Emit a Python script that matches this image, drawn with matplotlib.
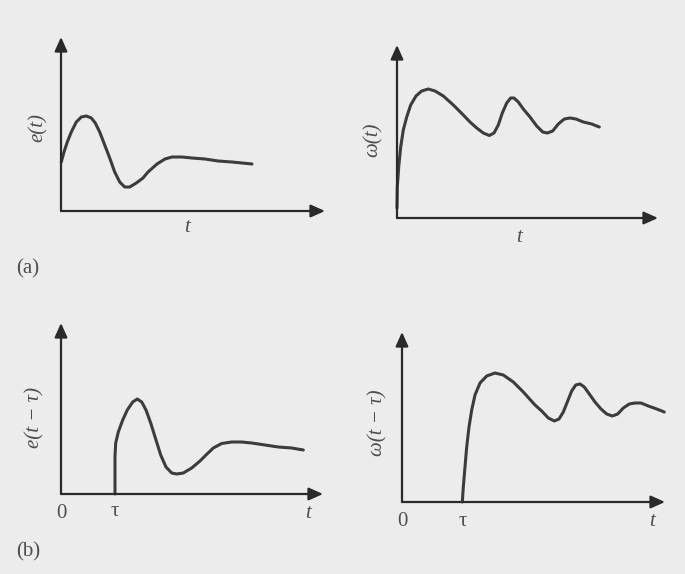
import numpy as np
import matplotlib
matplotlib.use("Agg")
from matplotlib import pyplot as plt

# curve readings (t from the origin, value above the t axis)
t_e = [0.3, 3, 6.3, 10.3, 15.3, 20.3, 25.3, 30.3, 34.3, 38.7, 43.7, 48.7, 53.7, 58.7,
       63.7, 68.7, 75.3, 82, 87, 96, 104, 111, 121, 131, 144, 157, 171, 181, 191]
e_vals = [49, 59, 69, 79, 89, 94, 95, 93, 88, 79, 66, 53, 39, 29, 24, 24, 28, 33, 39,
          47, 52, 54, 54, 53, 52, 50, 49, 48, 47]

t_w = [0, 0.3, 1.7, 3.7, 6.3, 9.7, 13.7, 19, 24.7, 31.3, 38, 46.3, 56.3, 66.3, 73,
       79.7, 86.3, 92.3, 97, 101.3, 105.3, 109.7, 113.7, 117, 121.3, 126.3, 133, 139.7,
       145.7, 150.3, 155.7, 161.3, 167.3, 173, 179, 186.3, 194.7, 202.3]
w_vals = [10, 31, 51, 71, 88, 101, 113, 122, 127, 129, 127, 122, 113, 103, 96, 90, 85,
          82.5, 85, 93, 105, 115, 120, 120, 116, 109, 101, 92, 86, 85, 87, 94, 99, 100, 99,
          96, 94, 91]

tau_e = 54
t_ed = [54, 54, 54.7, 57.3, 61.7, 66.3, 71.7, 76.3, 80.7, 85, 89.7, 95, 99.7, 105,
        110.7, 115.7, 122.3, 130.7, 139, 146, 152.3, 160.7, 170.7, 180.7, 190.7, 204,
        217.3, 230.7, 242.3]
ed_vals = [0, 38, 51, 62, 74, 84, 92, 95, 92, 84, 71, 54, 39, 27, 21, 20, 21, 26, 33,
           40, 46, 50.5, 52, 52, 51, 49, 47, 46, 44]

tau_w = 61
t_wd = [60.3, 61.3, 63, 64.7, 67, 69.7, 73, 78, 84.7, 93, 101.3, 111.3, 121.3, 133,
        139.7, 146.3, 152.3, 157, 161.3, 165.3, 169.7, 173.7, 178, 182.3, 187.3, 193,
        199, 204.7, 210.3, 215.7, 221.3, 227.3, 233, 239, 246.3, 254.7, 262.3]
wd_vals = [0, 15, 35, 55, 75, 92, 107, 119, 126, 129, 127, 120, 110, 97, 91, 84, 81,
           83, 90, 100, 111, 117, 118, 115, 108, 100, 93, 88, 86, 88, 94, 98, 99, 99, 96,
           93, 90]

W, H = 685, 574
bg = "#ececec"
ink = "#3c3c3c"
txt = "#4e4e4e"
serif = "Liberation Serif"

fig = plt.figure(figsize=(W / 100, H / 100), dpi=100, facecolor=bg)


def make_panel(x0, y0, xtip, ytip):
    # place an axes whose origin and arrow tips sit at the given pixel spots
    ax = fig.add_axes([x0 / W, 1 - y0 / H, (xtip - x0) / W, (y0 - ytip) / H])
    ax.set_xlim(0, xtip - x0)
    ax.set_ylim(0, y0 - ytip)
    ax.axis("off")
    ax.patch.set_alpha(0)
    arrow = dict(arrowstyle="-|>,head_length=0.85,head_width=0.38", lw=1.6,
                 color="#2a2a2a", shrinkA=0, shrinkB=0)
    ax.annotate("", xy=(xtip - x0, 0), xytext=(0, 0), arrowprops=arrow,
                annotation_clip=False)
    ax.annotate("", xy=(0, y0 - ytip), xytext=(0, 0), arrowprops=arrow,
                annotation_clip=False)
    return ax


def ptext(x, y, s, **kw):
    fig.text(x / W, 1 - y / H, s, ha="center", va="center", color=txt,
             family=serif, **kw)


line = dict(color=ink, lw=2.2, solid_capstyle="round", solid_joinstyle="round",
            clip_on=False)

ax1 = make_panel(61, 211, 325, 37)
ax1.plot(t_e, e_vals, **line)
ptext(38, 128, "e(t)", rotation=90, fontsize=15, style="italic")
ptext(187, 227, "t", fontsize=15, style="italic")
ptext(28, 269, "(a)", fontsize=15)

ax2 = make_panel(397, 218, 658, 45)
ax2.plot(t_w, w_vals, **line)
ptext(373, 140, "ω(t)", rotation=90, fontsize=15, style="italic")
ptext(519, 238, "t", fontsize=15, style="italic")

ax3 = make_panel(61, 494, 323, 323)
ax3.plot(t_ed, ed_vals, **line)
ptext(35, 417, "e(t − τ)", rotation=90, fontsize=15, style="italic")
ptext(61, 513, "0", fontsize=15)
ptext(61 + tau_e, 512, "τ", fontsize=15)
ptext(308, 513, "t", fontsize=15, style="italic")
ptext(28, 552, "(b)", fontsize=15)

ax4 = make_panel(402, 502, 665, 332)
ax4.plot(t_wd, wd_vals, **line)
ptext(378, 423, "ω(t − τ)", rotation=90, fontsize=15, style="italic")
ptext(402, 522, "0", fontsize=15)
ptext(402 + tau_w, 521, "τ", fontsize=15)
ptext(652, 522, "t", fontsize=15, style="italic")

fig.savefig("out.png", dpi=100, facecolor=bg)
